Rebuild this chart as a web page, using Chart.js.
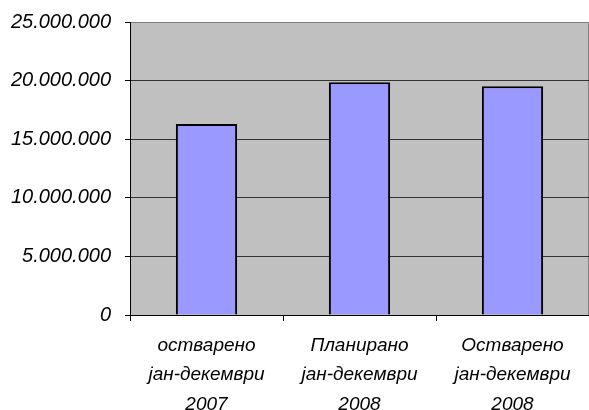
<!DOCTYPE html>
<html>
<head>
<meta charset="utf-8">
<script src="https://cdn.jsdelivr.net/npm/chart.js@4"></script>
<style>
html,body{margin:0;padding:0;background:#fff}
#wrap{width:589px;height:410px}
</style>
</head>
<body>
<div id="wrap"><canvas id="c" width="589" height="410"></canvas></div>
<script>
const categories = [
  ['остварено', 'јан-декември', '2007'],
  ['Планирано', 'јан-декември', '2008'],
  ['Остварено', 'јан-декември', '2008']
]
const values = [16300000, 19850000, 19520000]
const yTicks = [0, 5000000, 10000000, 15000000, 20000000, 25000000]

const FAMILY = "'Liberation Sans', Arial, sans-serif"

// dotted thousands, e.g. 25.000.000
function fmt(v){
  return String(v).replace(/\B(?=(\d{3})+(?!\d))/g, '.')
}

// gray plot background
const plotBg = {
  id: 'plotBg',
  beforeDraw(chart){
    const a = chart.chartArea, c = chart.ctx
    c.save()
    c.fillStyle = '#c0c0c0'
    c.fillRect(a.left, a.top, a.right - a.left, a.bottom - a.top)
    c.strokeStyle = '#808080'
    c.lineWidth = 1
    c.beginPath()
    c.moveTo(a.left, a.top + 0.5)
    c.lineTo(a.right - 0.5, a.top + 0.5)
    c.lineTo(a.right - 0.5, a.bottom)
    c.stroke()
    c.restore()
  }
}

new Chart(document.getElementById('c'), {
  type: 'bar',
  data: {
    labels: categories,
    datasets: [{
      data: values,
      backgroundColor: '#9999ff',
      borderColor: '#000000',
      borderWidth: 2,
      barPercentage: 0.4,
      categoryPercentage: 1
    }]
  },
  options: {
    responsive: false,
    animation: false,
    layout: {padding: {top: 22, right: 0, left: 0, bottom: 0}},
    plugins: {legend: {display: false}, tooltip: {enabled: false}},
    scales: {
      x: {
        offset: true,
        grid: {offset: true, drawOnChartArea: false, drawTicks: true, tickLength: 6, color: '#000'},
        border: {color: '#000', width: 1},
        ticks: {color: '#000', font: {family: FAMILY, size: 19, style: 'italic', lineHeight: 1.55}, padding: 10, maxRotation: 0, autoSkip: false},
        afterFit(s){ s.height = 95 }
      },
      y: {
        min: 0,
        max: 25000000,
        afterBuildTicks(s){ s.ticks = yTicks.map(v => ({value: v})) },
        grid: {
          color: ctx => ctx.tick && ctx.tick.value === 25000000 ? '#808080' : '#333333',
          tickColor: '#000',
          tickLength: 5,
          lineWidth: 1
        },
        border: {color: '#000', width: 1},
        ticks: {color: '#000', font: {family: FAMILY, size: 20, style: 'italic'}, padding: 14, callback: v => fmt(v)},
        afterFit(s){ s.width = 130; s.paddingTop = 0; s.paddingBottom = 0 }
      }
    }
  },
  plugins: [plotBg]
})
</script>
</body>
</html>
